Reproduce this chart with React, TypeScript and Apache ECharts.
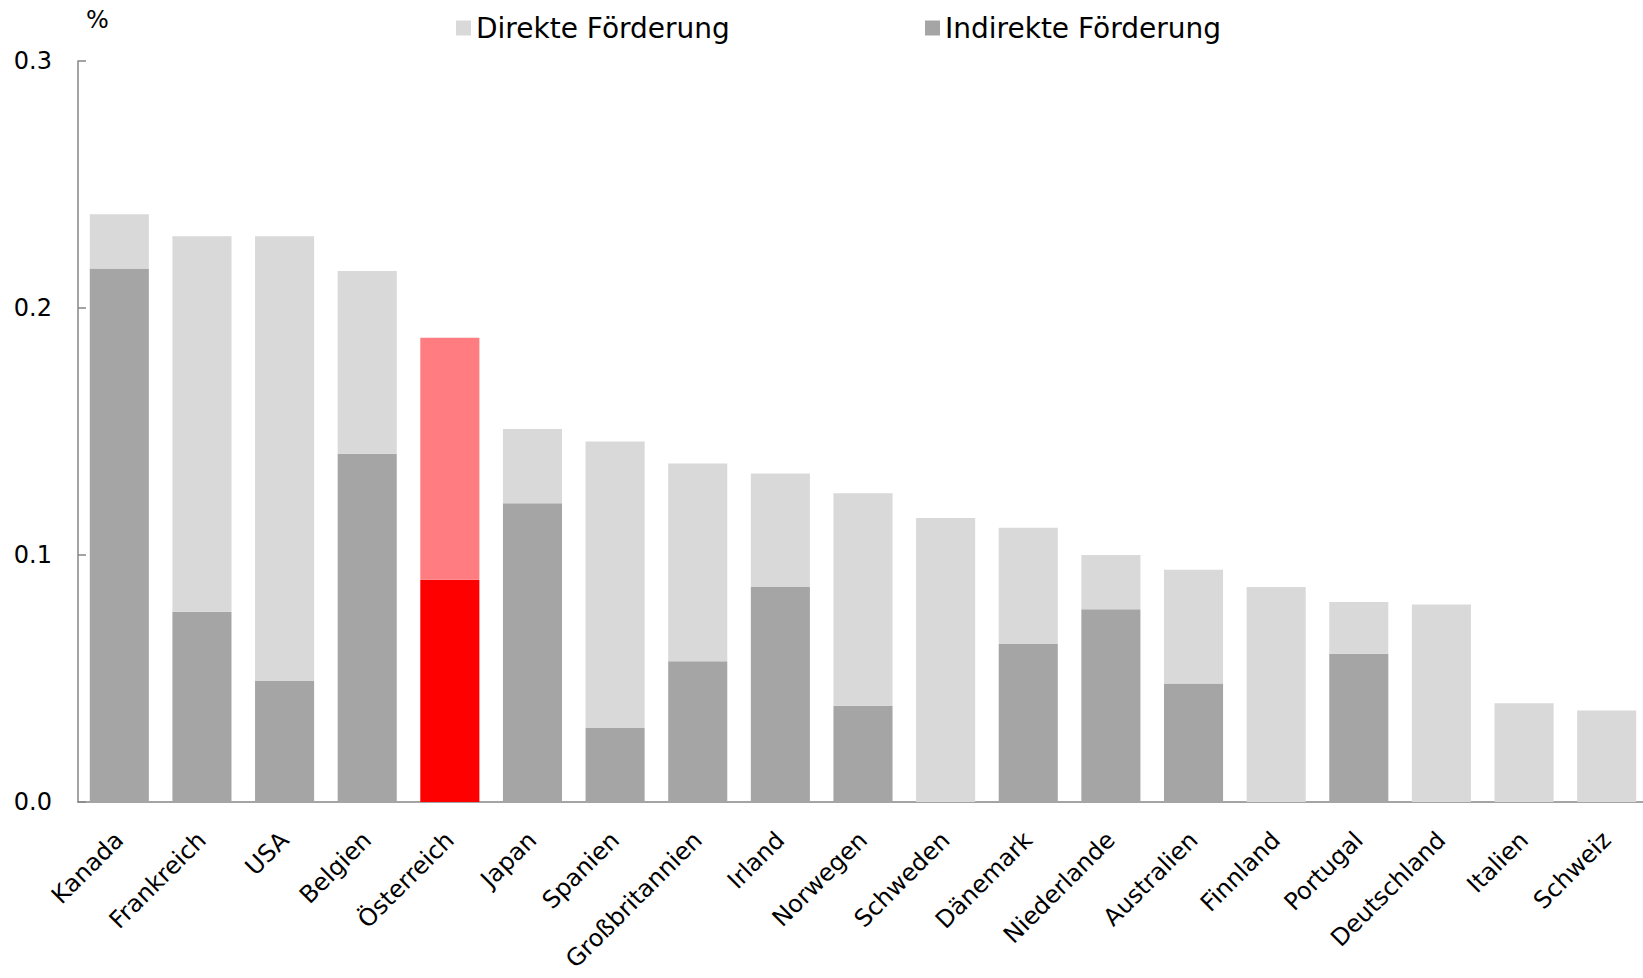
import React, { useEffect, useRef } from "react";
import * as echarts from "echarts";

const categories = [
  "Kanada", "Frankreich", "USA", "Belgien", "Österreich", "Japan", "Spanien",
  "Großbritannien", "Irland", "Norwegen", "Schweden", "Dänemark", "Niederlande",
  "Australien", "Finnland", "Portugal", "Deutschland", "Italien", "Schweiz",
];

const indirect = [
  0.216, 0.077, 0.049, 0.141, 0.090, 0.121, 0.030, 0.057, 0.087, 0.039,
  0.0, 0.064, 0.078, 0.048, 0.0, 0.060, 0.0, 0.0, 0.0,
];

const direct = [
  0.022, 0.152, 0.180, 0.074, 0.098, 0.030, 0.116, 0.080, 0.046, 0.086,
  0.115, 0.047, 0.022, 0.046, 0.087, 0.021, 0.080, 0.040, 0.037,
];

const yTicks = [0, 0.1, 0.2, 0.3];

const highlight = "Österreich";
const FONT = "DejaVu Sans";

export default function App() {
  const ref = useRef<HTMLDivElement>(null);
  useEffect(() => {
    if (!ref.current) return;
    const chart = echarts.init(ref.current, undefined, { renderer: "svg" });
    const mk = (vals: number[], base: string, hi: string) =>
      vals.map((v, i) =>
        categories[i] === highlight ? { value: v, itemStyle: { color: hi } } : { value: v, itemStyle: { color: base } }
      );
    chart.setOption({
      animation: false,
      textStyle: { fontFamily: FONT },
      legend: [
        {
          data: ["Direkte Förderung"],
          left: 456,
          top: 14,
          padding: 0,
          itemWidth: 15,
          itemHeight: 15,
          icon: "rect",
          textStyle: { fontFamily: FONT, fontSize: 28, color: "#000" },
        },
        {
          data: ["Indirekte Förderung"],
          left: 925,
          top: 14,
          padding: 0,
          itemWidth: 15,
          itemHeight: 15,
          icon: "rect",
          textStyle: { fontFamily: FONT, fontSize: 28, color: "#000" },
        },
      ],
      graphic: [
        {
          type: "text",
          left: 86,
          top: 8,
          style: { text: "%", fontFamily: FONT, fontSize: 24, fill: "#000" },
        },
      ],
      grid: { left: 78, right: -5, top: 61, bottom: 176, containLabel: false, outerBoundsMode: "none" },
      xAxis: {
        type: "category",
        data: categories,
        axisLine: { show: true, lineStyle: { color: "#868686", width: 1.5 } },
        axisTick: { show: false },
        axisLabel: {
          interval: 0,
          rotate: 45,
          margin: 34,
          fontFamily: FONT,
          fontSize: 24,
          color: "#000",
        },
      },
      yAxis: {
        type: "value",
        min: yTicks[0],
        max: yTicks[yTicks.length - 1],
        interval: 0.1,
        splitLine: { show: false },
        axisLine: { show: true, lineStyle: { color: "#868686", width: 1.5 } },
        axisTick: { show: true, inside: true, length: 8, lineStyle: { color: "#868686", width: 1.5 } },
        axisLabel: {
          margin: 26,
          fontFamily: FONT,
          fontSize: 24,
          color: "#000",
          formatter: (v: number) => v.toFixed(1),
        },
      },
      series: [
        {
          name: "Indirekte Förderung",
          type: "bar",
          stack: "total",
          barCategoryGap: "28.5%",
          itemStyle: { color: "#A5A5A5" },
          data: mk(indirect, "#A5A5A5", "#FF0000"),
        },
        {
          name: "Direkte Förderung",
          type: "bar",
          stack: "total",
          barCategoryGap: "28.5%",
          itemStyle: { color: "#D9D9D9" },
          data: mk(direct, "#D9D9D9", "#FF7C80"),
        },
      ],
    });
    return () => chart.dispose();
  }, []);
  return (
    <div
      ref={ref}
      style={{ position: "absolute", left: 0, top: 0, width: 1643, height: 978, background: "#fff" }}
    />
  );
}
